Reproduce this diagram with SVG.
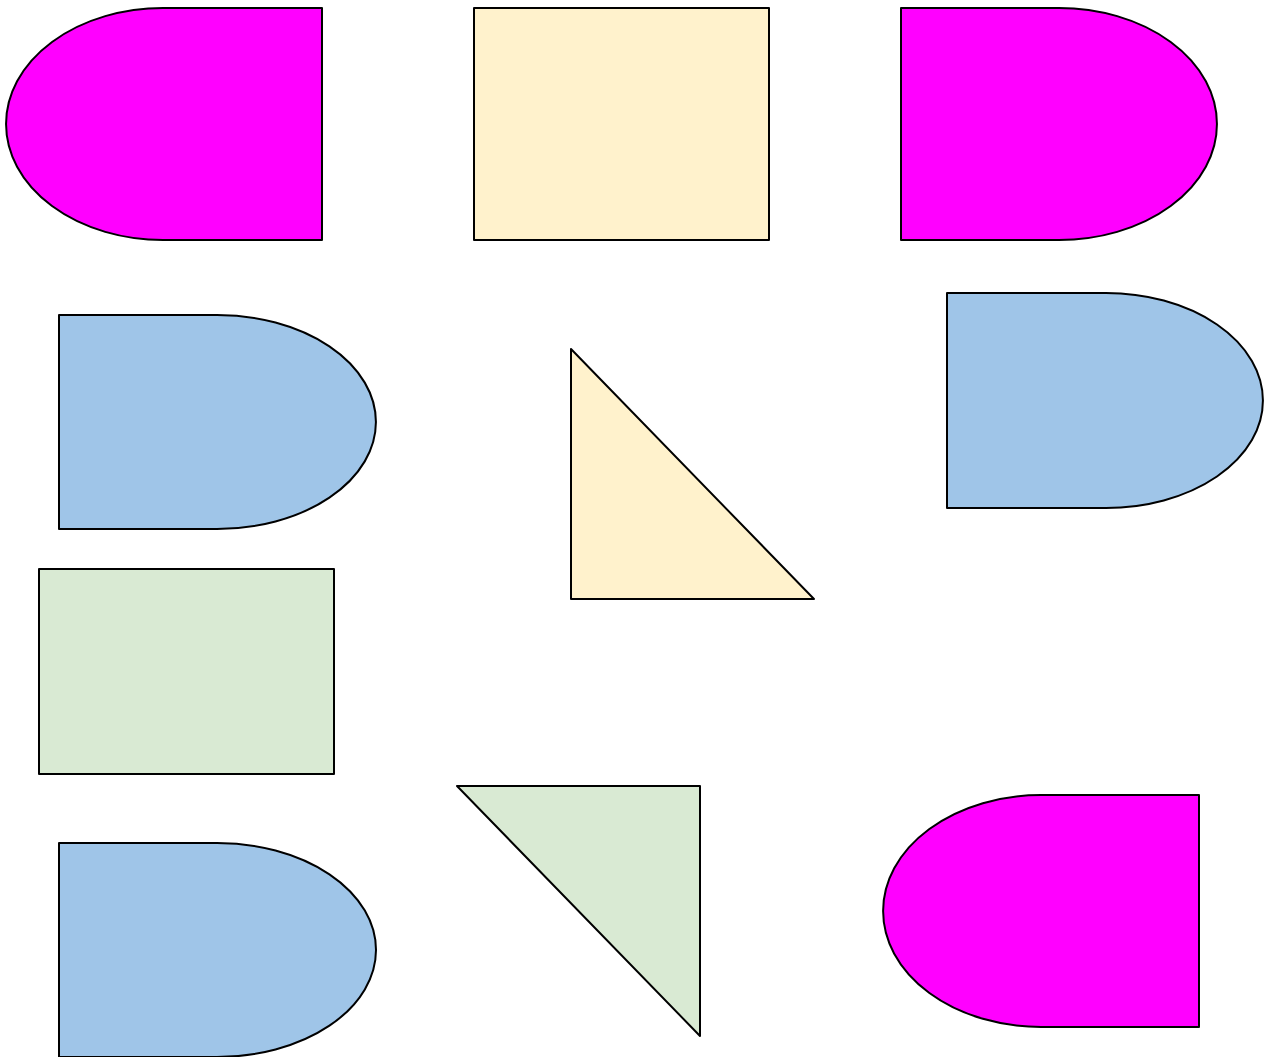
<svg xmlns="http://www.w3.org/2000/svg" width="1269" height="1057" viewBox="0 0 1269 1057">
<style>
.s{stroke:#000;stroke-width:2;stroke-linejoin:round}
.m{fill:#ff00ff}.y{fill:#fff2cc}.b{fill:#9fc5e8}.g{fill:#d9ead3}
</style>
<rect width="1269" height="1057" fill="#fff"/>
<g id="n1"><path class="s m" d="M322,8 L163,8 A157,116 0 0 0 163,240 L322,240 Z"/></g>
<g id="n2"><rect class="s y" x="474" y="8" width="295" height="232"/></g>
<g id="n3"><path class="s m" d="M901,8 L1059,8 A158,116 0 0 1 1059,240 L901,240 Z"/></g>
<g id="n4"><path class="s b" d="M59,315 L217,315 A159,107 0 0 1 217,529 L59,529 Z"/></g>
<g id="n5"><path class="s y" d="M571,349 L571,599 L814,599 Z"/></g>
<g id="n6"><path class="s b" d="M947,293 L1106,293 A157,107.5 0 0 1 1106,508 L947,508 Z"/></g>
<g id="n7"><rect class="s g" x="39" y="569" width="295" height="205"/></g>
<g id="n8"><path class="s b" d="M59,843 L217,843 A159,107 0 0 1 217,1057 L59,1057 Z"/></g>
<g id="n9"><path class="s g" d="M457,786 L700,786 L700,1036 Z"/></g>
<g id="n10"><path class="s m" d="M1199,795 L1041,795 A158,116 0 0 0 1041,1027 L1199,1027 Z"/></g>
<g id="connectors"></g>
</svg>
